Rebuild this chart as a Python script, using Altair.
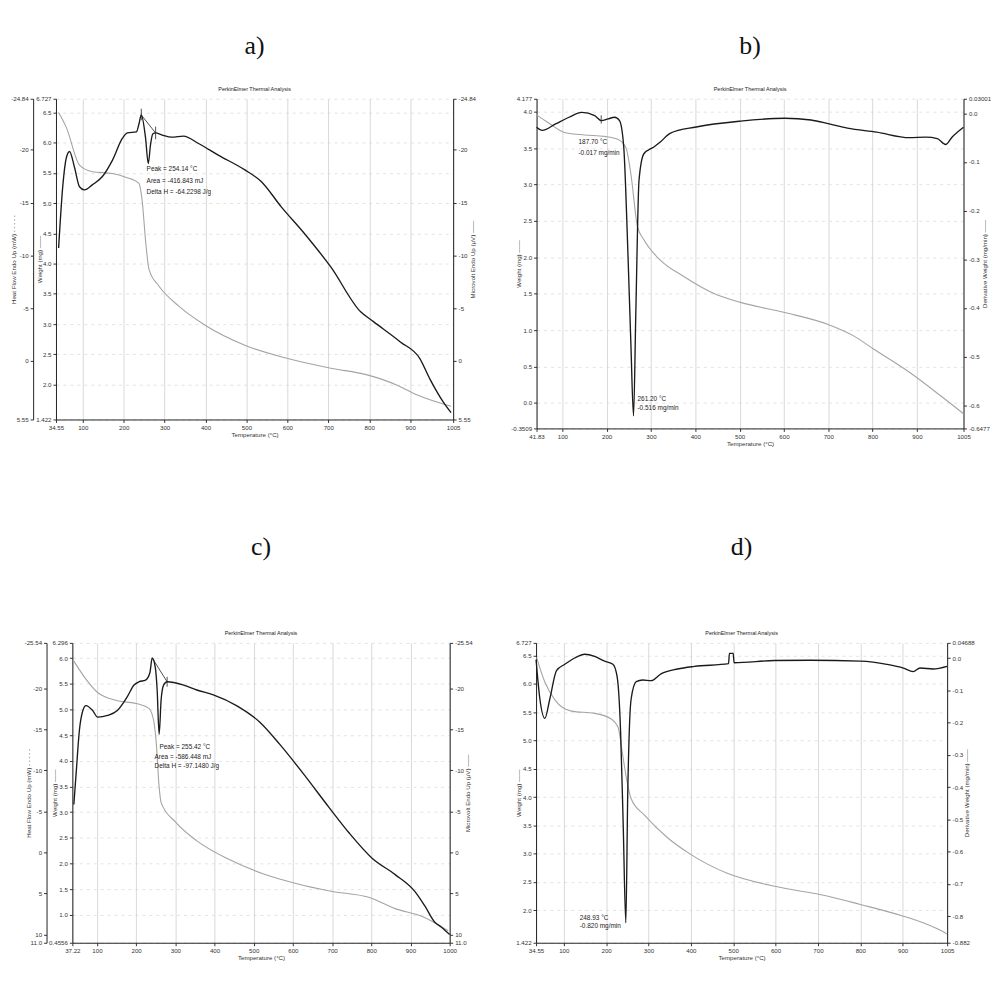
import altair as alt
import pandas as pd

FONT = "Liberation Sans"
SERIF = "Liberation Serif"
SUBTITLE = "PerkinElmer Thermal Analysis"

# ---------------- panel a ----------------
A_X_VALUES = [34.55, 100, 200, 300, 400, 500, 600, 700, 800, 900, 1005]
A_DTA_T = [41, 51.5, 59.6, 67.7, 80, 92, 104, 124, 148.5, 173, 197, 209, 231, 237, 243, 253.5, 260, 265.6, 271, 277.8,
           294, 318, 346, 383, 431, 496, 536, 585, 641, 706, 779, 811, 876, 924, 948, 981, 1000]
A_DTA_V = [-10.7, -16.7, -19.2, -19.84, -18.3, -16.5, -16.2, -16.7, -17.5, -19.05, -21.1, -21.6, -21.7, -22.4, -23.3,
           -21.1, -18.7, -20.5, -21.5, -21.6, -21.4, -21.2, -21.3, -20.6, -19.5, -18.1, -17.0, -14.6, -12.1, -8.9,
           -4.65, -3.7, -1.8, -0.2, 1.7, 3.9, 4.9]
A_TG_T = [41, 60, 92, 124, 173, 205, 237, 245, 254, 262, 286, 334, 399, 496, 601, 706, 795, 868, 916, 1000]
A_TG_W = [6.5, 6.25, 5.63, 5.52, 5.49, 5.43, 5.33, 5.05, 4.34, 3.90, 3.63, 3.30, 2.98, 2.65, 2.43, 2.27, 2.16, 1.99,
          1.83, 1.64]
A_W_TICKS = [1.422, 2.0, 2.5, 3.0, 3.5, 4.0, 4.5, 5.0, 5.5, 6.0, 6.5, 6.727]
A_H_TICKS = [-24.84, -20, -15, -10, -5, 0, 5.55]
A_NOTE_TEXT = ["Peak = 254.14 °C", "Area = -416.843 mJ", "Delta H = -64.2298 J/g"]
A_NOTE_T = [256, 256, 256]
A_NOTE_V = [-18.2, -17.0, -16.0]
A_RULE_T = [243, 243, 278]
A_RULE_T2 = [278, 243, 278]
A_RULE_V = [-23.3, -23.9, -22.2]
A_RULE_V2 = [-21.6, -22.8, -21.0]

# ---------------- panel b ----------------
B_X_VALUES = [41.83, 100, 200, 300, 400, 500, 600, 700, 800, 900, 1005]
B_DTG_T = [41.83, 55, 84.7, 115, 143.8, 173, 188, 203, 218, 229, 238.5, 247.3, 254.7, 260.6, 265.8, 273, 284, 306.5,
           321, 343, 402, 502, 602, 661, 702, 743, 809, 883, 920, 946, 964.5, 979, 1005]
B_DTG_V = [-0.0285, -0.035, -0.0217, -0.008, 0.002, -0.0047, -0.015, -0.0115, -0.008, -0.015, -0.069, -0.27, -0.476,
           -0.622, -0.408, -0.137, -0.083, -0.069, -0.059, -0.041, -0.028, -0.016, -0.010, -0.0136, -0.0217, -0.0305,
           -0.0386, -0.050, -0.049, -0.052, -0.064, -0.049, -0.0285]
B_TG_T = [41.83, 70, 107, 151, 195.6, 225, 243.6, 254.7, 269.5, 284, 321, 373, 439.5, 502, 602, 698, 757, 802, 883,
          957, 1005]
B_TG_W = [3.955, 3.84, 3.71, 3.68, 3.66, 3.62, 3.50, 3.14, 2.42, 2.24, 1.96, 1.74, 1.51, 1.38, 1.24, 1.08, 0.92, 0.74,
          0.42, 0.08, -0.15]
B_W_TICKS = [-0.3509, 0.0, 0.5, 1.0, 1.5, 2.0, 2.5, 3.0, 3.5, 4.0, 4.177]
B_D_TICKS = [-0.6477, -0.6, -0.5, -0.4, -0.3, -0.2, -0.1, 0.0, 0.03001]
B_NOTE_TEXT = ["187.70 °C", "-0.017 mg/min", "261.20 °C", "-0.516 mg/min"]
B_NOTE_T = [136.4, 136.4, 269.5, 269.5]
B_NOTE_V = [-0.059, -0.081, -0.588, -0.606]
B_RULE_T = [187.7]
B_RULE_T2 = [187.7]
B_RULE_V = [-0.004]
B_RULE_V2 = [-0.021]

# ---------------- panel c ----------------
C_X_VALUES = [37.22, 100, 200, 300, 400, 500, 600, 700, 800, 900, 1000]
C_DTA_T = [41, 47, 55, 64, 72, 89, 101.7, 127, 152, 177.6, 194.5, 207, 224, 235, 241, 249, 253.6, 258.6, 263.7, 270,
           279, 321, 355, 397, 456, 515, 566, 625, 692, 743, 802, 861, 912, 937, 962, 979, 1000]
C_DTA_V = [-5.85, -9.73, -14.8, -17.3, -17.9, -17.3, -16.5, -16.7, -17.3, -19.0, -20.4, -20.8, -21.0, -21.9, -23.7,
           -22.5, -19.8, -14.4, -18.6, -20.4, -20.8, -20.4, -19.8, -19.2, -17.9, -15.9, -13.2, -9.7, -5.5, -2.4, 0.7,
           2.7, 4.8, 6.55, 8.5, 9.1, 10.0]
C_TG_T = [41, 68, 101.7, 152, 203, 232.5, 245, 252, 258, 264, 300, 355, 439, 523.6, 608, 696.6, 793.7, 861, 928.7, 996]
C_TG_W = [5.94, 5.63, 5.33, 5.17, 5.11, 5.02, 4.77, 4.28, 3.55, 3.18, 2.81, 2.44, 2.07, 1.80, 1.61, 1.46, 1.34, 1.12,
          0.97, 0.69]
C_W_TICKS = [0.4556, 1.0, 1.5, 2.0, 2.5, 3.0, 3.5, 4.0, 4.5, 5.0, 5.5, 6.0, 6.296]
C_H_TICKS = [-25.54, -20, -15, -10, -5, 0, 5, 10, 11.0]
C_NOTE_TEXT = ["Peak = 255.42 °C", "Area = -586.448 mJ", "Delta H = -97.1480 J/g"]
C_NOTE_T = [259.5, 247, 247]
C_NOTE_V = [-12.8, -11.6, -10.5]
C_RULE_T = [241, 279]
C_RULE_T2 = [279, 279]
C_RULE_V = [-23.7, -21.4]
C_RULE_V2 = [-20.8, -20.2]

# ---------------- panel d ----------------
D_X_VALUES = [34.55, 100, 200, 300, 400, 500, 600, 700, 800, 900, 1005]
D_DTG_T = [34.55, 43.6, 55.3, 67, 82.8, 102.4, 125.9, 149.4, 173, 196.4, 216, 226, 234, 240.3, 246.5, 251, 259, 271,
           286.5, 306, 329.6, 368.8, 408, 489, 491, 500, 502, 598, 682, 800, 862.5, 901.7, 925, 941, 972, 1005]
D_DTG_V = [-0.005, -0.127, -0.187, -0.127, -0.039, -0.0195, 0.0, 0.0117, 0.005, -0.0098, -0.0195, -0.0585, -0.224,
           -0.517, -0.82, -0.42, -0.127, -0.073, -0.068, -0.070, -0.049, -0.034, -0.026, -0.0176, 0.0146, 0.0146,
           -0.0146, -0.0078, -0.0068, -0.0098, -0.0195, -0.031, -0.042, -0.031, -0.034, -0.026]
D_TG_T = [35.7, 55, 79, 118, 173, 212, 228, 239.5, 249.7, 259, 290.4, 345, 398.6, 486, 598, 721.5, 800, 898, 950,
          996, 1005]
D_TG_W = [6.47, 6.04, 5.72, 5.52, 5.48, 5.38, 5.24, 4.72, 4.26, 3.97, 3.68, 3.28, 2.99, 2.65, 2.42, 2.25, 2.10, 1.90,
          1.77, 1.615, 1.575]
D_W_TICKS = [1.422, 2.0, 2.5, 3.0, 3.5, 4.0, 4.5, 5.0, 5.5, 6.0, 6.5, 6.727]
D_D_TICKS = [-0.882, -0.8, -0.7, -0.6, -0.5, -0.4, -0.3, -0.2, -0.1, 0.0, 0.04688]
D_NOTE_TEXT = ["248.93 °C", "-0.820 mg/min"]
D_NOTE_T = [137.6, 137.6]
D_NOTE_V = [-0.805, -0.83]

LABEL_SIZE = 6.2


def label_expr(vals, labels):
    expr = "''"
    for v, lab in reversed(list(zip(vals, labels))):
        expr = f"datum.value == {v!r} ? '{lab}' : ({expr})"
    return expr


def end_labels(ticks, dec):
    labs = []
    for i, t in enumerate(ticks):
        if i == 0 or i == len(ticks) - 1 or dec is None:
            s = repr(t)
            if s.endswith(".0") and dec is None:
                s = s[:-2]
            labs.append(s)
        else:
            labs.append(f"{t:.{dec}f}")
    return labs


def panel(letter, xdom, xvals, dark_T, dark_V, dark_dom, dark_rev, dark_ticks, dark_labels, dark_title,
          tg_T, tg_W, w_ticks, w_labels, note_text, note_T, note_V, rules, width, height, sub_pad,
          w_tx, r_tx, heat_title=None, heat_offset=24, heat_tx=-20):
    xscale = alt.Scale(domain=xdom, nice=False, zero=False)
    wscale = alt.Scale(domain=[w_ticks[0], w_ticks[-1]], nice=False, zero=False)
    dscale = alt.Scale(domain=dark_dom, nice=False, zero=False, reverse=dark_rev)
    xlabels = [str(v) for v in xvals]
    xaxis = alt.Axis(values=xvals, labelExpr=label_expr(xvals, xlabels), grid=True,
                     gridColor="#c8c8c8", gridWidth=0.7, labelFlush=False, titlePadding=1)

    def X():
        return alt.X("T:Q", scale=xscale, title="Temperature (°C)", axis=xaxis)

    tg = pd.DataFrame({"T": tg_T, "W": tg_W})
    dk = pd.DataFrame({"T": dark_T, "V": dark_V})
    nt = pd.DataFrame({"T": note_T, "V": note_V, "label": note_text})

    grey = alt.Chart(tg).mark_line(color="#a4a4a4", strokeWidth=1.1, interpolate="monotone").encode(
        x=X(),
        y=alt.Y("W:Q", scale=wscale, title="Weight (mg) ——",
                axis=alt.Axis(orient="left", values=w_ticks, labelExpr=label_expr(w_ticks, w_labels),
                              grid=True, gridColor="#d6d6d6", gridDash=[3, 4], gridWidth=0.7,
                              labelFlush=False, titleX=w_tx, titleBaseline="middle")),
    )
    dark = alt.Chart(dk).mark_line(color="#1a1a1a", strokeWidth=1.35, interpolate="monotone").encode(
        x=X(),
        y=alt.Y("V:Q", scale=dscale, title=dark_title,
                axis=alt.Axis(orient="right", values=dark_ticks,
                              labelExpr=label_expr(dark_ticks, dark_labels), titleAngle=270,
                              labelFlush=False, titleX=r_tx, titleBaseline="middle", grid=False)),
    )
    if heat_title is not None:
        note_axis = alt.Axis(orient="left", offset=heat_offset, values=dark_ticks,
                             labelExpr=label_expr(dark_ticks, dark_labels), labelFlush=False,
                             titleX=heat_tx, titleBaseline="middle", grid=False)
        note_y = alt.Y("V:Q", scale=dscale, title=heat_title, axis=note_axis)
    else:
        note_y = alt.Y("V:Q", scale=dscale, axis=None)
    notes = alt.Chart(nt).mark_text(align="left", baseline="middle", font=FONT, fontSize=6.5,
                                    color="#222").encode(x=X(), y=note_y, text="label:N")
    layers = [grey, dark, notes]
    if rules is not None:
        rd = pd.DataFrame({"T": rules[0], "T2": rules[1], "V": rules[2], "V2": rules[3]})
        rl = alt.Chart(rd).mark_rule(color="#222", strokeWidth=0.8).encode(
            x=X(), x2="T2:Q", y=alt.Y("V:Q", scale=dscale, axis=None), y2="V2:Q")
        layers.append(rl)
    return alt.layer(*layers).resolve_scale(y="independent").properties(
        width=width, height=height,
        title=alt.TitleParams(text=letter, subtitle=SUBTITLE, font=SERIF, fontSize=26, fontWeight="normal",
                              color="#111", subtitleFont=FONT, subtitleFontSize=5.5, subtitleColor="#222",
                              subtitlePadding=sub_pad, offset=3, anchor="middle"))


pa = panel("a)", [34.55, 1005], A_X_VALUES, A_DTA_T, A_DTA_V, [-24.84, 5.55], True, A_H_TICKS,
           end_labels(A_H_TICKS, None), "Microvolt Endo Up (μV) ——",
           A_TG_T, A_TG_W, A_W_TICKS, end_labels(A_W_TICKS, 1),
           A_NOTE_TEXT, A_NOTE_T, A_NOTE_V, (A_RULE_T, A_RULE_T2, A_RULE_V, A_RULE_V2),
           400, 323, 29, -17, 20, heat_title="Heat Flow Endo Up (mW) - - - - -", heat_offset=23, heat_tx=-20)
pb = panel("b)", [41.83, 1005], B_X_VALUES, B_DTG_T, B_DTG_V, [-0.6477, 0.03001], False, B_D_TICKS,
           end_labels(B_D_TICKS, 1), "Derivative Weight (mg/min) ——",
           B_TG_T, B_TG_W, B_W_TICKS, end_labels(B_W_TICKS, 1),
           B_NOTE_TEXT, B_NOTE_T, B_NOTE_V, (B_RULE_T, B_RULE_T2, B_RULE_V, B_RULE_V2),
           430, 332, 29, -18, 21)
pc = panel("c)", [37.22, 1000], C_X_VALUES, C_DTA_T, C_DTA_V, [-25.54, 11.0], True, C_H_TICKS,
           end_labels(C_H_TICKS, None)[:-1] + ["11.0"], "Microvolt Endo Up (μV) ——",
           C_TG_T, C_TG_W, C_W_TICKS, end_labels(C_W_TICKS, 1),
           C_NOTE_TEXT, C_NOTE_T, C_NOTE_V, (C_RULE_T, C_RULE_T2, C_RULE_V, C_RULE_V2),
           380, 302, 72, -18, 18, heat_title="Heat Flow Endo Up (mW) - - - - -", heat_offset=26, heat_tx=-18)
pd_ = panel("d)", [34.55, 1005], D_X_VALUES, D_DTG_T, D_DTG_V, [-0.882, 0.04688], False, D_D_TICKS,
            end_labels(D_D_TICKS, 1), "Derivative Weight (mg/min) ——",
            D_TG_T, D_TG_W, D_W_TICKS, end_labels(D_W_TICKS, 1),
            D_NOTE_TEXT, D_NOTE_T, D_NOTE_V, None,
            414, 302, 72, -18, 20)

row1 = alt.hconcat(pa, pb, spacing=34)
row2 = alt.hconcat(pc, pd_, spacing=43)
chart = alt.vconcat(row1, row2, spacing=87, center=True).properties(
    padding={"left": 2, "top": 21, "right": 0, "bottom": 0}
).configure_view(stroke=None).configure_axis(
    labelFont=FONT, labelFontSize=LABEL_SIZE, labelColor="#333", titleFont=FONT, titleFontSize=6.2,
    titleFontWeight="normal", titleColor="#333", tickColor="#333", tickSize=3, domainColor="#222",
    domainWidth=1, labelPadding=2
).configure_title(font=SERIF)

chart.save("out.html", embed_options={"renderer": "svg", "actions": False})
